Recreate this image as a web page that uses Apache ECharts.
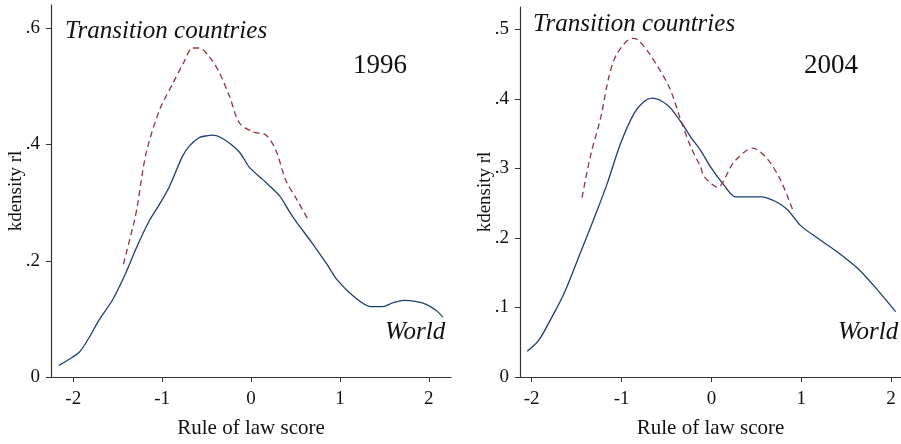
<!DOCTYPE html>
<html>
<head>
<meta charset="utf-8">
<script src="https://cdn.jsdelivr.net/npm/echarts@6/dist/echarts.min.js"></script>
<style>
  html, body { margin: 0; padding: 0; background: #fff; }
  #chart { width: 901px; height: 444px; }
</style>
</head>
<body>
<div id="chart"></div>
<script>
// kernel density of rule of law score
const world1996X = [-2.16, -2.05, -1.93, -1.82, -1.71, -1.56, -1.42, -1.29, -1.14, -1.03, -0.92, -0.77, -0.69, -0.58, -0.5, -0.43, -0.34, -0.24, -0.12, -0.02, 0.13, 0.32, 0.43, 0.51, 0.69, 0.85, 0.97, 1.16, 1.35, 1.48, 1.6, 1.72, 1.85, 1.97, 2.08, 2.16];
const world1996Y = [0.020, 0.030, 0.043, 0.068, 0.098, 0.132, 0.175, 0.222, 0.270, 0.297, 0.327, 0.380, 0.398, 0.412, 0.415, 0.416, 0.412, 0.402, 0.385, 0.361, 0.340, 0.312, 0.285, 0.267, 0.230, 0.195, 0.167, 0.138, 0.121, 0.121, 0.128, 0.132, 0.130, 0.125, 0.115, 0.103];
const trans1996X = [-1.435, -1.31, -1.28, -1.18, -1.03, -0.88, -0.75, -0.66, -0.58, -0.47, -0.36, -0.24, -0.13, 0.02, 0.17, 0.28, 0.39, 0.52, 0.656];
const trans1996Y = [0.194, 0.270, 0.293, 0.385, 0.459, 0.505, 0.543, 0.566, 0.566, 0.551, 0.525, 0.482, 0.437, 0.422, 0.416, 0.390, 0.339, 0.304, 0.267];

const world2004X = [-2.05, -1.92, -1.78, -1.64, -1.46, -1.27, -1.16, -1.01, -0.86, -0.75, -0.66, -0.49, -0.34, -0.23, -0.12, -0.01, 0.14, 0.27, 0.4, 0.55, 0.72, 0.85, 0.99, 1.2, 1.4, 1.63, 1.85, 2.05];
const world2004Y = [0.037, 0.053, 0.085, 0.120, 0.178, 0.240, 0.278, 0.336, 0.379, 0.396, 0.401, 0.391, 0.367, 0.345, 0.326, 0.302, 0.276, 0.259, 0.259, 0.259, 0.252, 0.240, 0.218, 0.198, 0.180, 0.156, 0.125, 0.094];
const trans2004X = [-1.44, -1.34, -1.23, -1.14, -1.05, -0.88, -0.82, -0.68, -0.47, -0.34, -0.23, -0.12, -0.08, 0.07, 0.25, 0.46, 0.62, 0.77, 0.92];
const trans2004Y = [0.258, 0.321, 0.374, 0.432, 0.465, 0.487, 0.485, 0.463, 0.417, 0.369, 0.331, 0.302, 0.288, 0.273, 0.309, 0.329, 0.314, 0.283, 0.235];

const xTicks = [-2, -1, 0, 1, 2];
const yTicks1996 = [0, 0.2, 0.4, 0.6];
const yTicks2004 = [0, 0.1, 0.2, 0.3, 0.4, 0.5];

const NAVY = '#1f3c7c';
const MAROON = '#9e3038';
const FONT = '"Liberation Serif", "DejaVu Serif", serif';
const AXIS = '#333';

function pairs(xs, ys) {
  return xs.map((x, i) => [x, ys[i]]);
}

function fmtY(v) {
  if (v === 0) return '0';
  return String(+v.toFixed(2)).replace(/^0\./, '.');
}

function xAxisFor(gridIndex, min, max) {
  return {
    type: 'value', gridIndex, min, max,
    axisLine: { show: true, onZero: false, lineStyle: { color: AXIS, width: 1.2 } },
    axisTick: { show: true, length: 5, customValues: xTicks, lineStyle: { color: AXIS } },
    axisLabel: { customValues: xTicks, color: '#111', fontFamily: FONT, fontSize: 19, margin: 13 },
    splitLine: { show: false },
    name: 'Rule of law score', nameLocation: 'middle', nameGap: 41, nameMoveOverlap: false,
    nameTextStyle: { color: '#111', fontFamily: FONT, fontSize: 21 },
  };
}

function yAxisFor(gridIndex, max, ticks) {
  return {
    type: 'value', gridIndex, min: 0, max,
    axisLine: { show: true, onZero: false, lineStyle: { color: AXIS, width: 1.2 } },
    axisTick: { show: true, length: 5, customValues: ticks, lineStyle: { color: AXIS } },
    axisLabel: { customValues: ticks, formatter: fmtY, color: '#111', fontFamily: FONT, fontSize: 19, margin: 11 },
    splitLine: { show: false },
    name: 'kdensity rl', nameLocation: 'middle', nameGap: 25, nameMoveOverlap: false,
    nameTextStyle: { color: '#111', fontFamily: FONT, fontSize: 19 },
  };
}

function lineSeries(idx, data, color, dashed) {
  return {
    type: 'line', xAxisIndex: idx, yAxisIndex: idx, data,
    showSymbol: false, smooth: 0.3, silent: true,
    lineStyle: { color, width: 1.3, type: dashed ? [6, 4] : 'solid' },
  };
}

function label(text, x, y, size, italic) {
  return {
    type: 'text', x, y,
    style: {
      text, fill: '#111', font: (italic ? 'italic ' : '') + size + 'px ' + FONT,
      verticalAlign: 'middle',
    },
  };
}

const chart = echarts.init(document.getElementById('chart'), null, { renderer: 'canvas' });

chart.setOption({
  animation: false,
  backgroundColor: '#fff',
  grid: [
    { left: 51, right: 450, top: 5, bottom: 67, outerBoundsMode: 'none' },
    { left: 520, right: 0, top: 7, bottom: 67, outerBoundsMode: 'none' },
  ],
  xAxis: [xAxisFor(0, -2.25, 2.25), xAxisFor(1, -2.13, 2.11)],
  yAxis: [yAxisFor(0, 0.64, yTicks1996), yAxisFor(1, 0.532, yTicks2004)],
  series: [
    lineSeries(0, pairs(world1996X, world1996Y), NAVY, false),
    lineSeries(0, pairs(trans1996X, trans1996Y), MAROON, true),
    lineSeries(1, pairs(world2004X, world2004Y), NAVY, false),
    lineSeries(1, pairs(trans2004X, trans2004Y), MAROON, true),
  ],
  graphic: [
    label('Transition countries', 65, 31, 25, true),
    label('1996', 353, 66, 27, false),
    label('World', 385, 332, 25, true),
    label('Transition countries', 533, 24, 25, true),
    label('2004', 804, 66, 27, false),
    label('World', 838, 332, 25, true),
  ],
});
</script>
</body>
</html>
